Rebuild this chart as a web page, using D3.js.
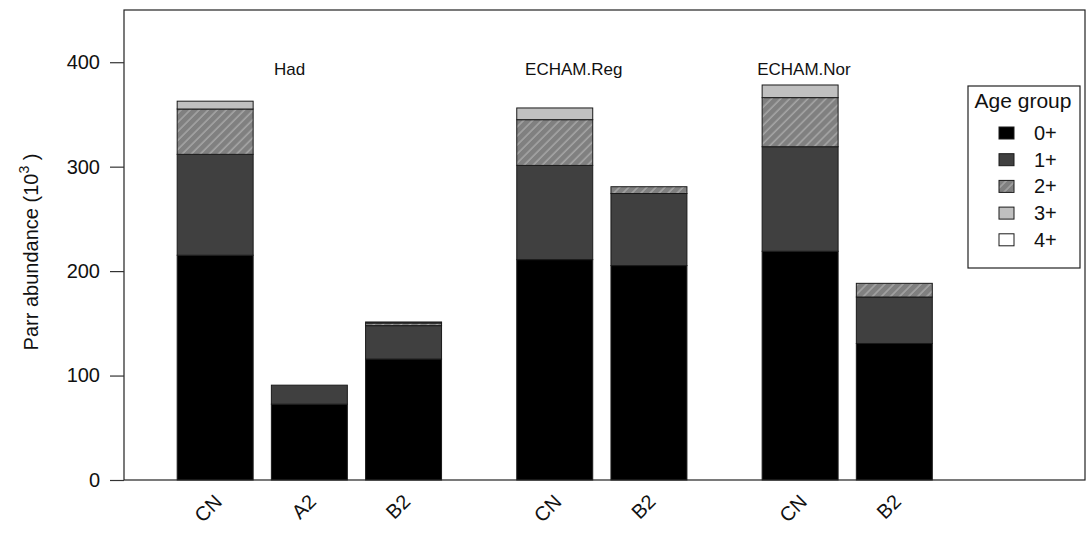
<!DOCTYPE html>
<html>
<head>
<meta charset="utf-8">
<script src="https://cdn.jsdelivr.net/npm/d3@7"></script>
<style>
  body { margin: 0; background: #fff; }
  text { font-family: "Liberation Sans", Arial, sans-serif; fill: #111; }
</style>
</head>
<body>
<div id="chart"></div>
<script>
// bars, in drawing order
var groups = ["Had", "ECHAM.Reg", "ECHAM.Nor"];
var barGroup = [0, 0, 0, 1, 1, 2, 2];
var scenarios = ["CN", "A2", "B2", "CN", "B2", "CN", "B2"];

// parr abundance (10^3) per age group
var age0 = [215.2, 72.6, 115.8, 211.0, 205.3, 219.0, 130.7];
var age1 = [96.6, 18.2, 32.0, 90.2, 69.0, 100.1, 44.5];
var age2 = [43.4, 0, 2.5, 43.8, 6.5, 47.0, 13.1];
var age3 = [7.5, 0, 1.0, 11.2, 0, 12.1, 0];
var age4 = [0, 0, 0, 0, 0, 0, 0];

var ageLabels = ["0+", "1+", "2+", "3+", "4+"];
var yTicks = [0, 100, 200, 300, 400];

var W = 1092, H = 534;
var svg = d3.select("#chart").append("svg")
        .attr("width", W)
        .attr("height", H);

var defs = svg.append("defs");
var pat = defs.append("pattern")
        .attr("id", "hatch")
        .attr("patternUnits", "userSpaceOnUse")
        .attr("width", 6.4)
        .attr("height", 6.4)
        .attr("patternTransform", "rotate(45)");
pat.append("rect").attr("width", 6.4).attr("height", 6.4).attr("fill", "#808080");
pat.append("line")
        .attr("x1", 1).attr("y1", 0).attr("x2", 1).attr("y2", 6.4)
        .attr("stroke", "#b0b0b0").attr("stroke-width", 1.2);

var fills = ["#000000", "#404040", "url(#hatch)", "#c0c0c0", "#ffffff"];

var x = d3.scaleLinear().domain([0, 12.65]).range([124, 1085]);
var y = d3.scaleLinear().domain([0, 450]).range([480, 10]);

// bar slot: left edge in bar-width units
function barLeft(i) {
    return 0.7 + i * 1.24 + barGroup[i] * 0.75;
}

var table = scenarios.map(function(s, i) {
    return {scen: s, i: i, "0+": age0[i], "1+": age1[i], "2+": age2[i], "3+": age3[i], "4+": age4[i]};
});
var stacked = d3.stack().keys(ageLabels)(table);

stacked.forEach(function(layer, k) {
    svg.append("g").selectAll("rect")
            .data(layer)
            .enter().append("rect")
            .attr("x", function(d) { return x(barLeft(d.data.i)); })
            .attr("width", x(1) - x(0))
            .attr("y", function(d) { return y(d[1]); })
            .attr("height", function(d) { return y(d[0]) - y(d[1]); })
            .attr("fill", fills[k])
            .attr("stroke", "#1a1a1a")
            .attr("stroke-width", 1);
});

// box
svg.append("rect")
        .attr("x", 124).attr("y", 10)
        .attr("width", 1085 - 124).attr("height", 470)
        .attr("fill", "none").attr("stroke", "#222").attr("stroke-width", 1.2);

// y axis
var yAxis = d3.axisLeft(y).tickValues(yTicks).tickSize(14).tickPadding(10);
var ga = svg.append("g").attr("transform", "translate(124,0)").call(yAxis);
ga.select(".domain").remove();
ga.selectAll("line").attr("stroke", "#333").attr("stroke-width", 1.2);
ga.selectAll("text")
        .style("font-size", "20px")
        .style("font-family", "'Liberation Sans', Arial, sans-serif")
        .attr("fill", "#111");

var yt = svg.append("text")
        .attr("transform", "translate(38,252) rotate(-90)")
        .attr("text-anchor", "middle")
        .style("font-size", "20px");
yt.append("tspan").text("Parr abundance (10");
yt.append("tspan").attr("dy", -9).style("font-size", "14px").text("3");
yt.append("tspan").attr("dy", 9).text(" )");

// x labels
svg.append("g").selectAll("text")
        .data(scenarios)
        .enter().append("text")
        .attr("text-anchor", "end")
        .style("font-size", "20px")
        .attr("transform", function(d, i) {
            var cx = x(barLeft(i) + 0.5) + 8;
            return "translate(" + cx + ",503) rotate(-45)";
        })
        .text(function(d) { return d; });

// group labels
var groupPos = [2.18, 5.92, 8.95];
svg.append("g").selectAll("text")
        .data(groups)
        .enter().append("text")
        .attr("x", function(d, i) { return x(groupPos[i]); })
        .attr("y", 75)
        .attr("text-anchor", "middle")
        .style("font-size", "17px")
        .text(function(d) { return d; });

// legend
var lg = svg.append("g");
lg.append("rect")
        .attr("x", 968).attr("y", 86)
        .attr("width", 112).attr("height", 182)
        .attr("fill", "#fff").attr("stroke", "#222").attr("stroke-width", 1.2);
lg.append("text")
        .attr("x", 1023).attr("y", 108)
        .attr("text-anchor", "middle")
        .style("font-size", "21px")
        .text("Age group");
ageLabels.forEach(function(a, k) {
    var ry = 133 + k * 26.7;
    lg.append("rect")
            .attr("x", 999).attr("y", ry - 6)
            .attr("width", 15).attr("height", 12)
            .attr("fill", fills[k]).attr("stroke", "#1a1a1a");
    lg.append("text")
            .attr("x", 1034).attr("y", ry + 7)
            .style("font-size", "20px")
            .text(a);
});
</script>
</body>
</html>
